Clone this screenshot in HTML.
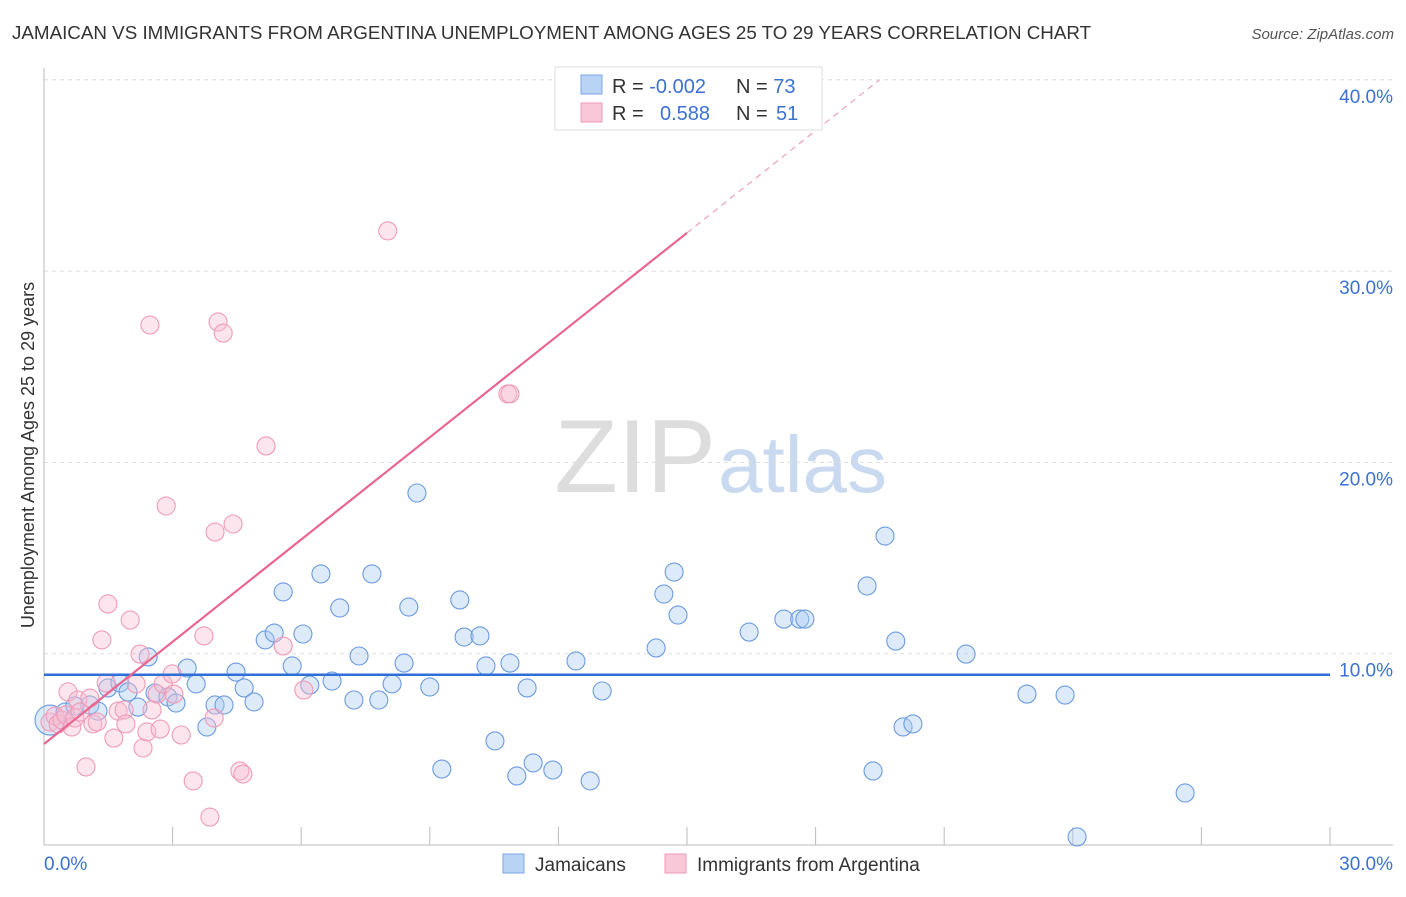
<!DOCTYPE html>
<html><head><meta charset="utf-8"><style>
body{margin:0;background:#fff;font-family:"Liberation Sans",sans-serif;}
svg text{font-family:"Liberation Sans",sans-serif;}
</style></head><body>
<svg id="chart" width="1406" height="892" viewBox="0 0 1406 892">
<text x="12" y="39" font-size="18.8" fill="#333">JAMAICAN VS IMMIGRANTS FROM ARGENTINA UNEMPLOYMENT AMONG AGES 25 TO 29 YEARS CORRELATION CHART</text>
<text x="1394" y="39" font-size="15" fill="#555" font-style="italic" text-anchor="end">Source: ZipAtlas.com</text>
<text x="716" y="492" font-size="104" fill="#ddd" text-anchor="end" font-family="Liberation Serif">ZIP</text>
<text x="718" y="492" font-size="80" fill="#c9d9f0">atlas</text>
<text transform="translate(34,455) rotate(-90)" font-size="18" fill="#333" text-anchor="middle">Unemployment Among Ages 25 to 29 years</text>
<g id="grid"></g><g id="axes"></g><g id="pts"></g><g id="lines"></g>
<g>
<rect x="555" y="67" width="267" height="63" fill="#fff" stroke="#ddd"/>
<rect x="581" y="75" width="21" height="19" fill="#b9d3f5" stroke="#7aa7e6"/>
<rect x="581" y="103" width="21" height="19" fill="#f9c8d8" stroke="#ee9ab6"/>
<text x="612" y="93" font-size="20" fill="#333">R = <tspan fill="#3b72d1">-0.002</tspan></text>
<text x="736" y="93" font-size="20" fill="#333">N = <tspan fill="#3b72d1">73</tspan></text>
<text x="612" y="120" font-size="20" fill="#333">R = <tspan fill="#3b72d1" x="660">0.588</tspan></text>
<text x="736" y="120" font-size="20" fill="#333">N = <tspan fill="#3b72d1" x="776">51</tspan></text>
</g>
<g>
<rect x="503" y="854" width="21" height="19" fill="#b9d3f5" stroke="#7aa7e6"/>
<text x="535" y="871" font-size="19" fill="#333">Jamaicans</text>
<rect x="665" y="854" width="21" height="19" fill="#f9c8d8" stroke="#ee9ab6"/>
<text x="697" y="871" font-size="19" fill="#333">Immigrants from Argentina</text>
</g>
</svg>
<script>
const xTickLabels=["0.0%","30.0%"];
const yTicks=[10,20,30,40];
const yTickLabels=["10.0%","20.0%","30.0%","40.0%"];
const blueX=[0.14,0.49,0.72,1.07,1.26,1.49,1.77,1.96,2.19,2.43,2.59,2.89,3.08,3.34,3.55,3.80,3.99,4.20,4.48,4.67,4.90,5.16,5.37,5.58,5.79,6.04,6.20,6.46,6.72,6.90,7.23,7.35,7.65,7.81,8.12,8.40,8.51,8.70,9.00,9.28,9.70,9.80,10.17,10.31,10.52,10.87,11.03,11.27,11.41,11.87,12.41,12.74,13.02,14.28,14.46,14.70,14.79,16.45,17.26,17.63,17.75,19.20,19.34,19.62,19.87,20.04,20.27,21.51,22.93,23.82,24.10,26.62];
const blueY=[6.53,6.95,7.27,7.32,7.00,8.21,8.47,8.00,7.21,9.83,7.95,7.74,7.42,9.25,8.42,6.17,7.32,7.32,9.04,8.21,7.48,10.72,11.08,13.23,9.36,11.03,8.36,14.17,8.57,12.39,7.58,9.88,14.17,7.58,8.42,9.51,12.44,18.40,8.26,3.97,12.81,10.87,10.93,9.36,5.44,9.51,3.61,8.21,4.29,3.92,9.62,3.35,8.05,10.30,13.12,14.27,12.02,11.13,11.81,11.81,11.81,13.54,3.87,16.15,10.66,6.17,6.33,9.98,7.89,7.84,0.42,2.72];
const pinkX=[0.14,0.26,0.33,0.42,0.51,0.56,0.65,0.72,0.79,0.84,0.98,1.07,1.14,1.24,1.35,1.45,1.49,1.63,1.73,1.87,1.91,2.01,2.15,2.24,2.31,2.40,2.47,2.52,2.64,2.71,2.78,2.85,2.99,3.03,3.20,3.48,3.73,3.87,3.97,3.99,4.06,4.18,4.41,4.57,4.64,5.18,5.58,6.06,8.02,10.82,10.87];
const pinkY=[6.43,6.74,6.33,6.53,6.80,8.00,6.17,6.64,7.58,6.95,4.08,7.68,6.33,6.43,10.72,8.47,12.60,5.59,7.00,7.06,6.33,11.76,8.42,9.98,5.07,5.91,27.18,7.06,7.89,6.06,8.42,17.72,8.94,7.89,5.75,3.35,10.93,1.46,6.64,16.36,27.34,26.76,16.78,3.87,3.71,20.86,10.40,8.10,32.10,23.58,23.58];
const blueTrend=[8.9,8.9];
const pinkTrend=[5.28,32.0];
const NS="http://www.w3.org/2000/svg";
const X=v=>44+v*(1286/30);
const Y=v=>845-v*19.13;
function mk(t,a,p){const e=document.createElementNS(NS,t);for(const k in a)e.setAttribute(k,a[k]);document.getElementById(p).appendChild(e);return e;}
yTicks.forEach((t,i)=>{
 const g=mk('line',{x1:44,x2:1393,y1:Y(t),y2:Y(t),stroke:'#ddd','stroke-dasharray':'4,4'},'grid');
 
 
 const l=mk('text',{x:1393,y:Y(t)+23,'font-size':19,fill:'#3b72d1','text-anchor':'end'},'axes');
 l.textContent=yTickLabels[i];
 
 
});
const ax=mk('line',{x1:44,x2:44,y1:68,y2:845,stroke:'#bbb'},'axes');


const bx=mk('line',{x1:44,x2:1393,y1:845,y2:845,stroke:'#bbb'},'axes');


for(let i=1;i<=10;i++){
 const t=mk('line',{x1:X(i*3),x2:X(i*3),y1:827,y2:845,stroke:'#bbb'},'axes');
 
 
}
[[0,'start',44],[30,'end',1393]].forEach((d,i)=>{
 const t=mk('text',{x:d[2],y:870,'font-size':19,fill:'#3b72d1','text-anchor':d[1]},'axes');
 t.textContent=xTickLabels[i];
 
 
});
blueX.forEach((x,i)=>{
 const c=mk('circle',{cx:X(x),cy:Y(blueY[i]),r:i==0?15:9,fill:'rgba(170,202,242,0.4)',stroke:'#6b9be0','stroke-width':1.1},'pts');
 
 
});
pinkX.forEach((x,i)=>{
 const c=mk('circle',{cx:X(x),cy:Y(pinkY[i]),r:9,fill:'rgba(248,190,210,0.4)',stroke:'#ef9bb8','stroke-width':1.1},'pts');
 
 
});
const bl=mk('line',{x1:X(0),x2:X(30),y1:Y(blueTrend[0]),y2:Y(blueTrend[1]),stroke:'#2f6fd6','stroke-width':2.5},'lines');


const slope=(pinkTrend[1]-pinkTrend[0])/15;
const pl=mk('line',{x1:X(0),x2:X(15),y1:Y(pinkTrend[0]),y2:Y(pinkTrend[1]),stroke:'#e8668f','stroke-width':2.2},'lines');


const xe=(40-pinkTrend[0])/slope;
const pd=mk('line',{x1:X(15),x2:X(xe),y1:Y(pinkTrend[1]),y2:Y(40),stroke:'#eca0b8','stroke-width':1.2,'stroke-dasharray':'6,5'},'lines');


</script>
</body></html>
